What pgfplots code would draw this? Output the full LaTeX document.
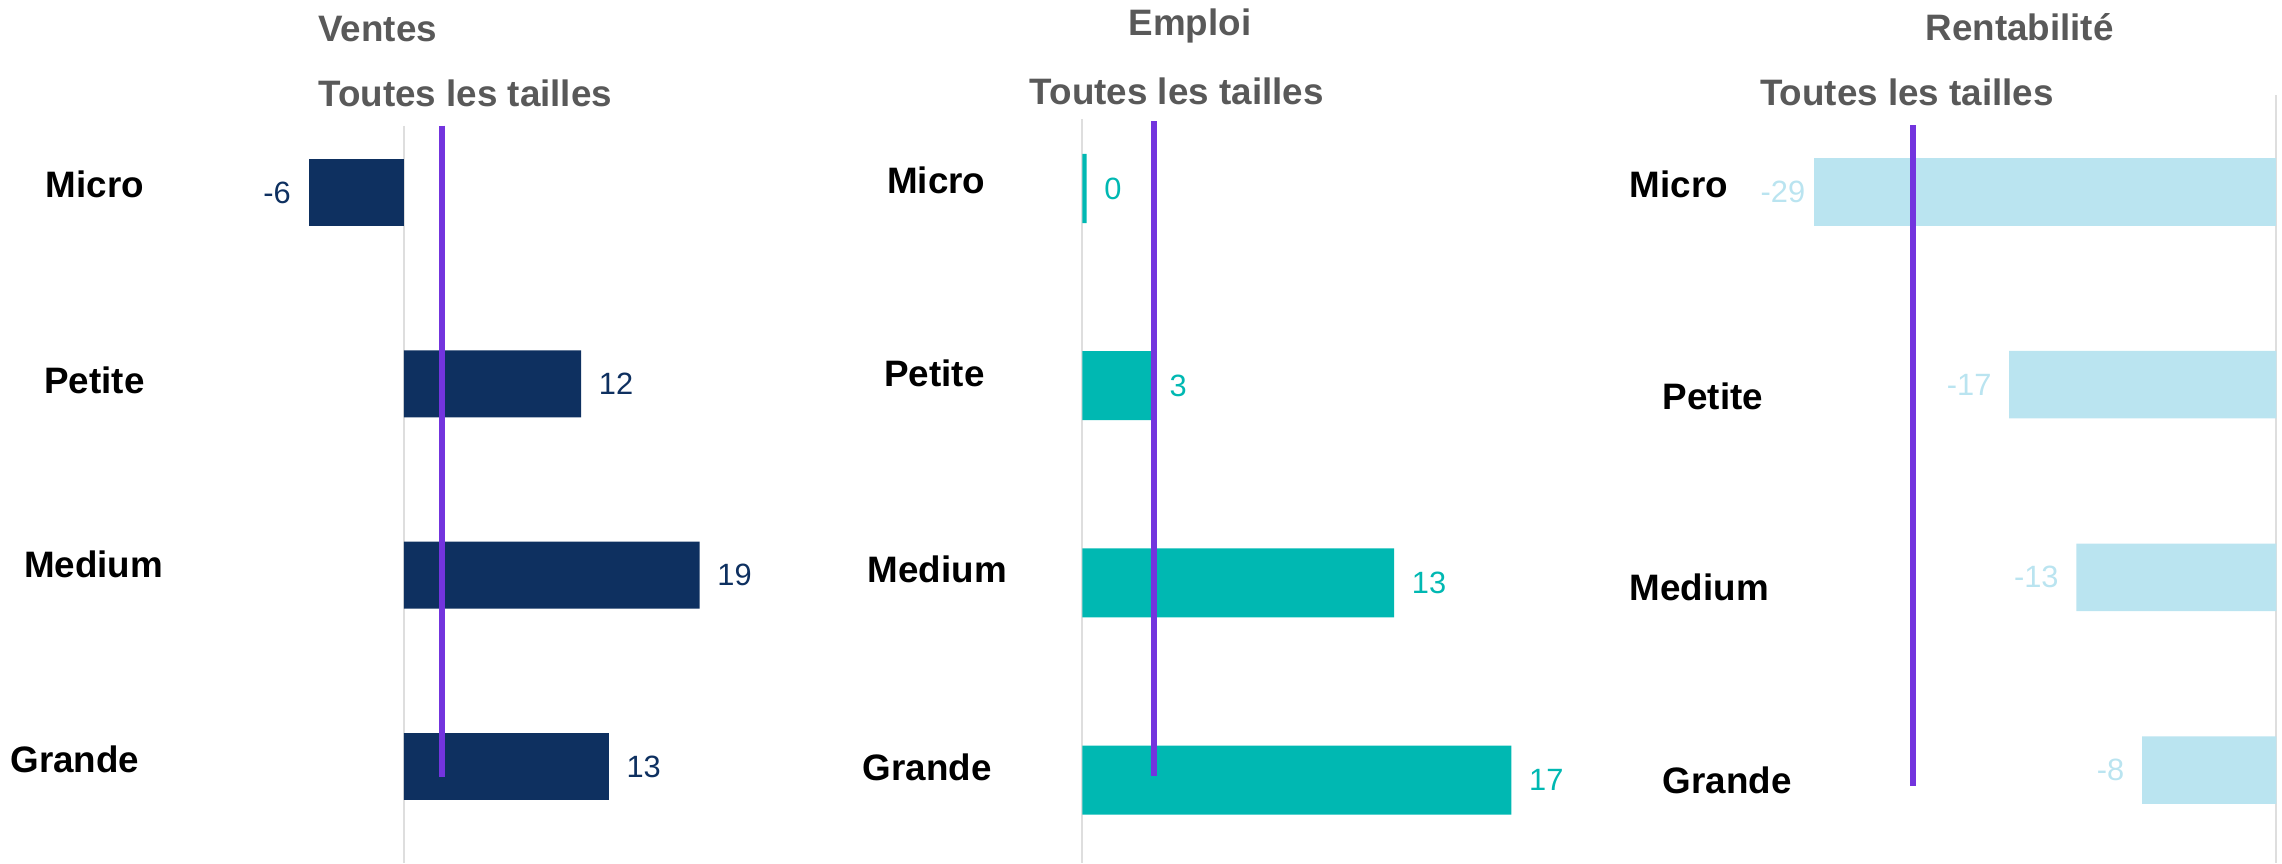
\documentclass[border=0pt]{standalone}
\usepackage{pgfplots}
\pgfplotsset{compat=1.18}
\usepackage{fontspec}
\setmainfont{Liberation Sans}
\definecolor{navy}{RGB}{14,48,96}
\definecolor{teal2}{RGB}{0,184,178}
\definecolor{ltblue}{RGB}{186,228,240}
\definecolor{refline}{RGB}{115,52,222}
\definecolor{titlegray}{RGB}{89,89,89}
\definecolor{zerogray}{RGB}{222,222,222}

\pgfplotsset{
  panel/.style={
    scale only axis,
    y dir=reverse,
    axis line style={draw=none},
    xtick=\empty,
    ytick style={draw=none},
    yticklabel style={anchor=west, inner sep=0pt, font=\fontsize{9.2}{10}\selectfont\bfseries, text=black},
    clip=false,
  },
  bars/.style={xbar, bar width=0.35, bar shift=0pt, draw=none, fill=#1,
    point meta=explicit symbolic,
    nodes near coords={\pgfplotspointmeta},
    nodes near coords style={text=#1, font=\fontsize{7.7}{9}\selectfont, inner xsep=4.25pt, inner ysep=0pt}},
  pos/.style={nodes near coords style={anchor=west}},
  neg/.style={nodes near coords style={anchor=east}},
  allsizes/.style={refline, line width=1.5pt, no markers},
}

\begin{document}
\begin{tikzpicture}
\path (0,0) rectangle (570.5pt,215.75pt);

% Ventes
\begin{axis}[panel,
  at={(39.4pt,0pt)}, anchor=south west,
  width=154pt, height=184.37pt,
  xmin=-16, xmax=24, ymin=-0.35, ymax=3.5044,
  ytick={-0.044,0.980,1.942,2.963},
  yticklabels={\hspace*{8.83pt}Micro,\hspace*{8.48pt}Petite,\hspace*{3.4pt}Medium,Grande},
  yticklabel style={xshift=-36.98pt},
]
\draw[zerogray, line width=0.5pt] (0,-0.35) -- (0,3.5044);
\addplot[bars=navy, neg] coordinates {(-6.2,0) [-6]};
\addplot[bars=navy, pos] coordinates {(11.5,1) [12] (19.2,2) [19] (13.3,3) [13]};
\addplot[allsizes] coordinates {(2.44,-0.35) (2.44,3.055)};
\end{axis}

% Emploi
\begin{axis}[panel,
  at={(246pt,0pt)}, anchor=south west,
  width=147.6pt, height=185.88pt,
  xmin=-4, xmax=20, ymin=-0.35, ymax=3.4204,
  ytick={-0.043,0.936,1.933,2.937},
  yticklabels={\hspace*{6.13pt}Micro,\hspace*{5.38pt}Petite,\hspace*{1.25pt}Medium,Grande},
  yticklabel style={xshift=-30.5pt},
]
\draw[zerogray, line width=0.5pt] (0,-0.35) -- (0,3.4204);
\addplot[bars=teal2, pos] coordinates {(0.17,0) [0] (2.82,1) [3] (12.67,2) [13] (17.44,3) [17]};
\addplot[allsizes] coordinates {(2.93,-0.342) (2.93,2.979)};
\end{axis}

% Rentabilite
\begin{axis}[panel,
  at={(425.1pt,0pt)}, anchor=south west,
  width=145.4pt, height=191.9pt,
  xmin=-36, xmax=0.35, ymin=-0.5, ymax=3.4813,
  ytick={-0.041,1.059,2.050,3.051},
  yticklabels={Micro,\hspace*{8.25pt}Petite,Medium,\hspace*{8.25pt}Grande},
  yticklabel style={xshift=-17.85pt},
]
\draw[zerogray, line width=0.5pt] (0,-0.5) -- (0,3.4813);
\addplot[bars=ltblue, neg, nodes near coords style={inner xsep=2pt}] coordinates {(-28.9,0) [-29]};
\addplot[bars=ltblue, neg] coordinates {(-16.7,1) [-17] (-12.5,2) [-13] (-8.4,3) [-8]};
\addplot[allsizes] coordinates {(-22.7,-0.344) (-22.7,3.082)};
\end{axis}

% titles
\begin{scope}[every node/.style={inner sep=0pt, text=titlegray, font=\fontsize{9.2}{11}\selectfont\bfseries}]
\node[anchor=base west] at (79.375pt,205.3pt) {Ventes};
\node[anchor=base west] at (79.375pt,189.08pt) {Toutes les tailles};
\node[anchor=base] at (297.5pt,206.95pt) {Emploi};
\node[anchor=base] at (294.2pt,189.7pt) {Toutes les tailles};
\node[anchor=base] at (504.9pt,205.58pt) {Rentabilité};
\node[anchor=base] at (476.75pt,189.33pt) {Toutes les tailles};
\end{scope}
\end{tikzpicture}
\end{document}
